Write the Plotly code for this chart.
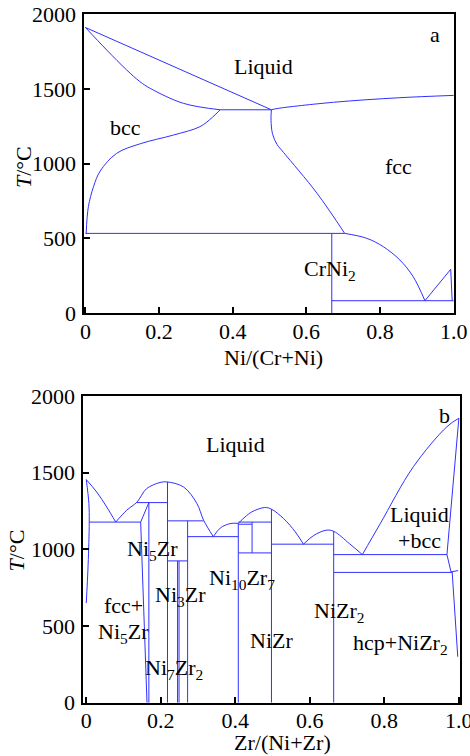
import plotly.graph_objects as go

# ---------------- Panel a : Cr-Ni ----------------
A_LIQ_BCC_X = [0.0, 0.505]
A_LIQ_BCC_T = [1910, 1360]
A_SOL_BCC_X = [0.0, 0.058, 0.112, 0.148, 0.176, 0.266, 0.366]
A_SOL_BCC_T = [1910, 1759, 1626, 1548, 1503, 1403, 1360]
A_SOLV_BCC_X = [0.002, 0.008, 0.022, 0.04, 0.085, 0.149, 0.239, 0.311, 0.345, 0.366]
A_SOLV_BCC_T = [534, 712, 846, 950, 1069, 1133, 1191, 1247, 1310, 1360]
A_LIQ_FCC_X = [0.505, 0.52, 0.674, 0.85, 1.0]
A_LIQ_FCC_T = [1360, 1368, 1410, 1440, 1456]
A_SOLV_FCC_X = [0.505, 0.504, 0.508, 0.52, 0.538, 0.629, 0.704]
A_SOLV_FCC_T = [1360, 1290, 1200, 1130, 1075, 802, 534]
A_DOME_X = [0.704, 0.764, 0.809, 0.854, 0.89, 0.922]
A_DOME_T = [534, 501, 445, 356, 245, 84]
A_LOW_X = [0.922, 0.992, 0.996]
A_LOW_T = [84, 294, 84]
# tie lines: (x0, x1, T)
A_HLINES = [(0.366, 0.505, 1360), (0.0, 0.704, 534), (0.669, 1.0, 84)]
# vertical lines: (x, T0, T1)
A_VLINES = [(0.669, 0, 534)]
A_LABELS = ["a", "Liquid", "bcc", "fcc", "CrNi<sub>2</sub>"]
A_LABEL_X = [0.95, 0.484, 0.11, 0.85, 0.664]
A_LABEL_T = [1860, 1648, 1240, 984, 289]

# ---------------- Panel b : Ni-Zr ----------------
B_LIQ1_X = [0.0, 0.028, 0.055, 0.079]
B_LIQ1_T = [1455, 1374, 1276, 1178]
B_FCC_X = [0.0, 0.007, 0.008, 0.005, 0.0]
B_FCC_T = [1455, 1300, 1178, 900, 650]
B_LIQ2_X = [0.079, 0.109, 0.136, 0.162, 0.198, 0.216, 0.261, 0.297, 0.315, 0.341]
B_LIQ2_T = [1178, 1256, 1308, 1396, 1436, 1440, 1407, 1299, 1190, 1083]
B_LIQ3_X = [0.341, 0.36, 0.386, 0.408]
B_LIQ3_T = [1083, 1140, 1168, 1170]
B_LIQ4_X = [0.408, 0.426, 0.444, 0.479, 0.497, 0.53, 0.561, 0.583]
B_LIQ4_T = [1170, 1211, 1244, 1273, 1262, 1200, 1114, 1034]
B_LIQ5_X = [0.583, 0.61, 0.644, 0.664, 0.706, 0.741]
B_LIQ5_T = [1034, 1090, 1125, 1118, 1038, 966]
B_LIQ6_X = [0.741, 0.789, 0.878, 0.968, 1.0]
B_LIQ6_T = [966, 1168, 1539, 1800, 1855]
B_SOL_X = [1.0, 0.983, 0.968, 0.979, 0.998]
B_SOL_T = [1855, 1400, 966, 853, 862]
B_HCP_X = [0.982, 0.994, 0.997]
B_HCP_T = [853, 452, 300]
B_NI5_X = [0.146, 0.168]
B_NI5_T = [1178, 1305]
B_NI5L_X = [0.146, 0.163]
B_NI5L_T = [1178, 0]
B_HLINES = [(0.008, 0.146, 1178), (0.136, 0.218, 1305), (0.218, 0.315, 1186),
            (0.218, 0.272, 925), (0.272, 0.408, 1083), (0.408, 0.497, 1178),
            (0.408, 0.445, 1164), (0.408, 0.497, 977), (0.497, 0.664, 1034),
            (0.664, 0.968, 966), (0.664, 0.982, 850)]
B_VLINES = [(0.168, 0, 1305), (0.218, 0, 1440), (0.272, 0, 1186), (0.245, 0, 925),
            (0.249, 0, 925), (0.408, 0, 1170), (0.445, 977, 1178), (0.497, 0, 1262),
            (0.664, 0, 1118)]
B_LABELS = ["b", "Liquid", "Liquid", "+bcc", "Ni<sub>5</sub>Zr", "Ni<sub>3</sub>Zr",
            "Ni<sub>10</sub>Zr<sub>7</sub>", "fcc+", "Ni<sub>5</sub>Zr", "NiZr<sub>2</sub>",
            "NiZr", "hcp+NiZr<sub>2</sub>", "Ni<sub>7</sub>Zr<sub>2</sub>"]
B_LABEL_X = [0.961, 0.4, 0.894, 0.894, 0.178, 0.254, 0.417, 0.1, 0.1, 0.677, 0.498, 0.842, 0.236]
B_LABEL_T = [1876, 1687, 1230, 1056, 995, 697, 810, 632, 458, 592, 403, 386, 219]

LINE = dict(color="#3030ff", width=1)
FONT = "Liberation Serif, Times New Roman, serif"

fig = go.Figure()


def add_curve(xs, ts, xa, ya, shape="spline"):
    fig.add_trace(go.Scatter(x=xs, y=ts, mode="lines", line=dict(LINE, shape=shape),
                             xaxis=xa, yaxis=ya, showlegend=False, hoverinfo="skip"))


def add_h(lines, xa, ya):
    for x0, x1, t in lines:
        add_curve([x0, x1], [t, t], xa, ya, "linear")


def add_v(lines, xa, ya):
    for x, t0, t1 in lines:
        add_curve([x, x], [t0, t1], xa, ya, "linear")


# panel a
add_curve(A_LIQ_BCC_X, A_LIQ_BCC_T, "x", "y", "linear")
add_curve(A_SOL_BCC_X, A_SOL_BCC_T, "x", "y")
add_curve(A_SOLV_BCC_X, A_SOLV_BCC_T, "x", "y")
add_curve(A_LIQ_FCC_X, A_LIQ_FCC_T, "x", "y")
add_curve(A_SOLV_FCC_X, A_SOLV_FCC_T, "x", "y")
add_curve(A_DOME_X, A_DOME_T, "x", "y")
add_curve(A_LOW_X, A_LOW_T, "x", "y", "linear")
add_h(A_HLINES, "x", "y")
add_v(A_VLINES, "x", "y")

# panel b
for xs, ts in [(B_LIQ1_X, B_LIQ1_T), (B_FCC_X, B_FCC_T), (B_LIQ2_X, B_LIQ2_T),
               (B_LIQ3_X, B_LIQ3_T), (B_LIQ4_X, B_LIQ4_T), (B_LIQ5_X, B_LIQ5_T),
               (B_LIQ6_X, B_LIQ6_T)]:
    add_curve(xs, ts, "x2", "y2")
add_curve(B_SOL_X, B_SOL_T, "x2", "y2", "linear")
add_curve(B_HCP_X, B_HCP_T, "x2", "y2", "linear")
add_curve(B_NI5_X, B_NI5_T, "x2", "y2", "linear")
add_curve(B_NI5L_X, B_NI5L_T, "x2", "y2", "linear")
add_h(B_HLINES, "x2", "y2")
add_v(B_VLINES, "x2", "y2")

XT = [0, 0.2, 0.4, 0.6, 0.8, 1.0]
XTT = ["0", "0.2", "0.4", "0.6", "0.8", "1.0"]
YT = [0, 500, 1000, 1500, 2000]
YTT = ["0", "500", "1000", "1500", "2000"]

axis_common = dict(showline=True, linewidth=2, linecolor="black", mirror=True,
                   ticks="inside", ticklen=6, tickwidth=1.5, tickcolor="black",
                   showgrid=False, zeroline=False, automargin=False,
                   ticklabeloverflow="allow",
                   tickfont=dict(family=FONT, size=22, color="black"))

fig.update_layout(
    width=470, height=756,
    margin=dict(l=0, r=0, t=0, b=0, pad=0, autoexpand=False),
    showlegend=False,
    paper_bgcolor="white", plot_bgcolor="white",
    xaxis=dict(axis_common, domain=[0.1794, 0.9660], range=[-0.003, 1.001],
               tickvals=XT, ticktext=XTT, anchor="y", ticklabelstandoff=-3),
    yaxis=dict(axis_common, domain=[0.5856, 0.9815], range=[0, 2000],
               tickvals=YT, ticktext=YTT, anchor="x", ticklabelstandoff=2),
    xaxis2=dict(axis_common, domain=[0.1772, 0.9787], range=[-0.008, 1.003],
                tickvals=XT, ticktext=XTT, anchor="y2", ticklabelstandoff=-3),
    yaxis2=dict(axis_common, domain=[0.0704, 0.4762], range=[0, 2000],
                tickvals=YT, ticktext=YTT, anchor="x2", ticklabelstandoff=2),
)

TXT = dict(family=FONT, size=22, color="black")
annots = []
for t, x, y in zip(A_LABELS, A_LABEL_X, A_LABEL_T):
    annots.append(dict(text=t, x=x, y=y, xref="x", yref="y", showarrow=False,
                       xanchor="center", yanchor="middle", font=TXT))
for t, x, y in zip(B_LABELS, B_LABEL_X, B_LABEL_T):
    annots.append(dict(text=t, x=x, y=y, xref="x2", yref="y2", showarrow=False,
                       xanchor="center", yanchor="middle", font=TXT))
# axis titles
annots += [
    dict(text="Ni/(Cr+Ni)", x=0.581, y=0.5265, xref="paper", yref="paper",
         showarrow=False, xanchor="center", yanchor="middle", font=TXT),
    dict(text="Zr/(Ni+Zr)", x=0.602, y=0.0176, xref="paper", yref="paper",
         showarrow=False, xanchor="center", yanchor="middle", font=TXT),
    dict(text="<i>T</i>/°C", x=0.0489, y=0.779, xref="paper", yref="paper",
         showarrow=False, textangle=-90, xanchor="center", yanchor="middle", font=TXT),
    dict(text="<i>T</i>/°C", x=0.0372, y=0.2725, xref="paper", yref="paper",
         showarrow=False, textangle=-90, xanchor="center", yanchor="middle", font=TXT),
]
fig.update_layout(annotations=annots)

fig.write_html("out.html", config={"displayModeBar": False},
               post_script="document.body.style.margin='0px';")
